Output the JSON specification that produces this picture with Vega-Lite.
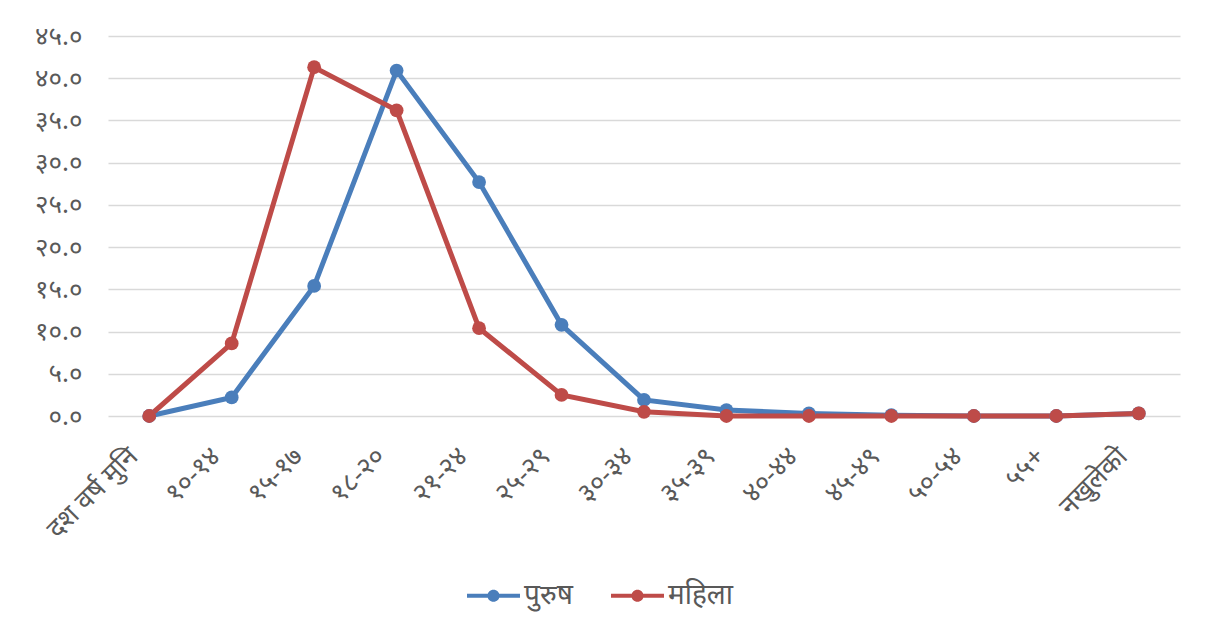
{
  "$schema": "https://vega.github.io/schema/vega-lite/v6.json",
  "width": 1072,
  "height": 380,
  "autosize": {"type": "none"},
  "padding": {"left": 108, "top": 36, "right": 29, "bottom": 214},
  "background": "white",
  "config": {
    "view": {"stroke": null},
    "font": "Noto Sans",
    "axis": {"labelColor": "#595959", "labelFont": "Noto Sans", "labelFontSize": 26, "domain": false, "ticks": false, "gridColor": "#d9d9d9", "gridWidth": 1.5, "title": null}
  },
  "data": {
    "values": [
      {"age": "दश वर्ष मुनि", "i": 0, "sex": "पुरुष", "v": 0.0},
      {"age": "१०-१४", "i": 1, "sex": "पुरुष", "v": 2.2},
      {"age": "१५-१७", "i": 2, "sex": "पुरुष", "v": 15.4},
      {"age": "१८-२०", "i": 3, "sex": "पुरुष", "v": 40.9},
      {"age": "२१-२४", "i": 4, "sex": "पुरुष", "v": 27.7},
      {"age": "२५-२९", "i": 5, "sex": "पुरुष", "v": 10.8},
      {"age": "३०-३४", "i": 6, "sex": "पुरुष", "v": 1.9},
      {"age": "३५-३९", "i": 7, "sex": "पुरुष", "v": 0.7},
      {"age": "४०-४४", "i": 8, "sex": "पुरुष", "v": 0.3},
      {"age": "४५-४९", "i": 9, "sex": "पुरुष", "v": 0.1},
      {"age": "५०-५४", "i": 10, "sex": "पुरुष", "v": 0.0},
      {"age": "५५+", "i": 11, "sex": "पुरुष", "v": 0.0},
      {"age": "नखुलेको", "i": 12, "sex": "पुरुष", "v": 0.3},
      {"age": "दश वर्ष मुनि", "i": 0, "sex": "महिला", "v": 0.0},
      {"age": "१०-१४", "i": 1, "sex": "महिला", "v": 8.6},
      {"age": "१५-१७", "i": 2, "sex": "महिला", "v": 41.3},
      {"age": "१८-२०", "i": 3, "sex": "महिला", "v": 36.2},
      {"age": "२१-२४", "i": 4, "sex": "महिला", "v": 10.4},
      {"age": "२५-२९", "i": 5, "sex": "महिला", "v": 2.5},
      {"age": "३०-३४", "i": 6, "sex": "महिला", "v": 0.5},
      {"age": "३५-३९", "i": 7, "sex": "महिला", "v": 0.0},
      {"age": "४०-४४", "i": 8, "sex": "महिला", "v": 0.0},
      {"age": "४५-४९", "i": 9, "sex": "महिला", "v": 0.0},
      {"age": "५०-५४", "i": 10, "sex": "महिला", "v": 0.0},
      {"age": "५५+", "i": 11, "sex": "महिला", "v": 0.0},
      {"age": "नखुलेको", "i": 12, "sex": "महिला", "v": 0.3}
    ]
  },
  "mark": {"type": "line", "strokeWidth": 5, "point": {"filled": true, "size": 190}},
  "encoding": {
    "x": {
      "field": "age", "type": "ordinal", "sort": {"field": "i"},
      "scale": {"type": "point", "padding": 0.5},
      "axis": {"labelAngle": -45, "labelAlign": "right", "labelBaseline": "middle", "labelPadding": 36, "labelOffset": -16, "labelFontSize": 27, "grid": false}
    },
    "y": {
      "field": "v", "type": "quantitative",
      "scale": {"domain": [0, 45], "nice": false},
      "axis": {"values": [0, 5, 10, 15, 20, 25, 30, 35, 40, 45], "labelPadding": 26,
        "labelExpr": "['०.०','५.०','१०.०','१५.०','२०.०','२५.०','३०.०','३५.०','४०.०','४५.०'][round(datum.value/5)]"}
    },
    "color": {
      "field": "sex", "type": "nominal",
      "scale": {"domain": ["पुरुष", "महिला"], "range": ["#4a7ebb", "#be4b48"]},
      "legend": {
        "title": null, "orient": "none", "direction": "horizontal", "legendX": 359, "legendY": 533,
        "symbolType": "M-1,-0.075H1V0.075H-1Z M0.23,0A0.23,0.23 0 1,1 -0.23,0A0.23,0.23 0 1,1 0.23,0Z",
        "symbolSize": 2809, "symbolStrokeWidth": 0, "labelFontSize": 28, "labelColor": "#595959", "labelOffset": 4, "columnPadding": 38
      }
    },
    "order": {"field": "i"}
  }
}
